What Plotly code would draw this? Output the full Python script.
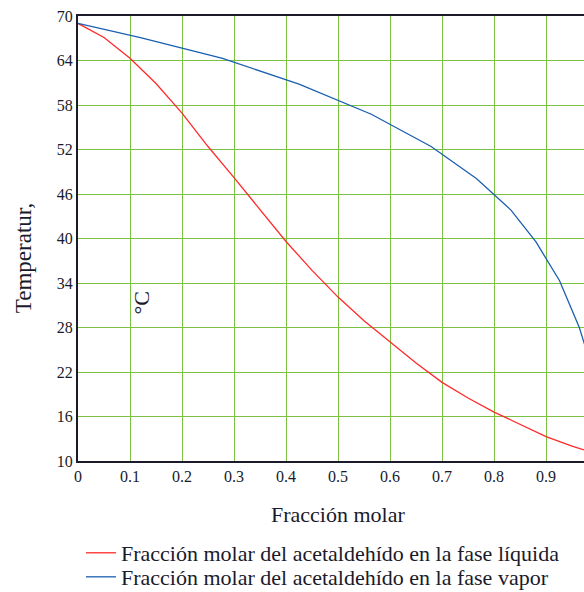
import plotly.graph_objects as go

# Liquid-phase curve (red)
x_liq = [0.0, 0.05, 0.1, 0.15, 0.2, 0.25, 0.3, 0.35, 0.4, 0.45, 0.5, 0.55, 0.6, 0.65, 0.7, 0.75, 0.8, 0.85, 0.9, 0.95, 0.973]
t_liq = [69.0, 67.1, 64.3, 60.9, 56.9, 52.4, 48.2, 43.9, 39.6, 35.7, 32.1, 28.9, 26.0, 23.2, 20.6, 18.5, 16.6, 14.9, 13.3, 12.0, 11.5]

# Vapor-phase curve (blue)
x_vap = [0.0, 0.12, 0.278, 0.425, 0.564, 0.679, 0.766, 0.833, 0.881, 0.926, 0.964, 0.975]
t_vap = [69.0, 67.1, 64.3, 60.8, 56.75, 52.4, 48.1, 43.8, 39.5, 34.3, 28.0, 25.5]

x_ticks = [0, 0.1, 0.2, 0.3, 0.4, 0.5, 0.6, 0.7, 0.8, 0.9]
x_tick_labels = ["0", "0.1", "0.2", "0.3", "0.4", "0.5", "0.6", "0.7", "0.8", "0.9"]
y_ticks = [10, 16, 22, 28, 34, 40, 46, 52, 58, 64, 70]

FONT = "Liberation Serif"
INK = "#1a1a2a"
GRID = "#7cc142"

fig = go.Figure()
fig.add_trace(go.Scatter(x=x_liq, y=t_liq, mode="lines",
                         line=dict(color="#ff2a2a", width=1.3),
                         name="Fracción molar del acetaldehído en la fase líquida",
                         legend="legend"))
fig.add_trace(go.Scatter(x=x_vap, y=t_vap, mode="lines",
                         line=dict(color="#1a5fb0", width=1.3),
                         name="Fracción molar del acetaldehído en la fase vapor",
                         legend="legend2"))

legend_common = dict(orientation="v", xanchor="left", yanchor="middle",
                     xref="container", yref="container",
                     font=dict(family=FONT, size=22, color=INK),
                     bgcolor="rgba(0,0,0,0)", borderwidth=0)

fig.update_layout(
    width=584, height=592,
    margin=dict(l=78, r=0, t=16, b=131, autoexpand=False),
    paper_bgcolor="white", plot_bgcolor="white",
    font=dict(family=FONT, color=INK, size=16),
    showlegend=True,
    legend=dict(x=0.1387, y=0.0659, **legend_common),
    legend2=dict(x=0.1387, y=0.0253, **legend_common),
    xaxis=dict(range=[0, 0.973], tickmode="array", tickvals=x_ticks, ticktext=x_tick_labels,
               showgrid=True, gridcolor=GRID, gridwidth=1.3,
               showline=True, linecolor=INK, linewidth=2, mirror=True,
               ticks="", zeroline=False, tickfont=dict(family=FONT, size=16, color=INK)),
    yaxis=dict(range=[10, 70], tickmode="array", tickvals=y_ticks,
               showgrid=True, gridcolor=GRID, gridwidth=1.3,
               showline=True, linecolor=INK, linewidth=2, mirror=False,
               ticks="", zeroline=False, tickfont=dict(family=FONT, size=16, color=INK)),
)

fig.add_annotation(text="Fracción molar", xref="paper", yref="paper",
                   x=0.514, y=-0.121, xanchor="center", yanchor="middle",
                   showarrow=False, font=dict(family=FONT, size=22, color=INK))
fig.add_annotation(text="Temperatur,", xref="paper", yref="paper",
                   x=-0.1087, y=0.458, xanchor="center", yanchor="middle", textangle=-90,
                   showarrow=False, font=dict(family=FONT, size=23, color=INK))
fig.add_annotation(text="°C", xref="x", yref="y",
                   x=0.122, y=31.3, xanchor="center", yanchor="middle", textangle=-90,
                   showarrow=False, font=dict(family=FONT, size=22, color=INK))

fig.write_html("out.html",
               config={"displayModeBar": False},
               post_script="document.body.style.margin='0';document.body.style.overflow='hidden';")
